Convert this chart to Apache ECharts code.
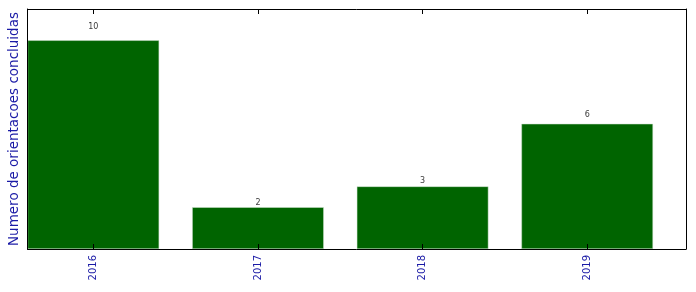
<!DOCTYPE html>
<html><head><meta charset="utf-8">
<script src="https://cdn.jsdelivr.net/npm/echarts@6/dist/echarts.min.js"></script>
<style>html,body{margin:0;padding:0;background:#fff}#c{width:696px;height:292px}</style>
</head><body><div id="c"></div>
<script>
const categories = ['2016', '2017', '2018', '2019'];
const values = [10, 2, 3, 6];
const yMax = 11.5;

const chart = echarts.init(document.getElementById('c'), null, {renderer: 'canvas'});
const barData = values.map((v, i) => [i, v]);
const labelData = values.map((v, i) => [i, v * 1.05]);
const xAxisCommon = {
  type: 'value', min: -0.4, max: 3.6, interval: 1, z: 10,
  axisLine: {show: true, onZero: false, lineStyle: {color: '#000', width: 1}},
  axisTick: {show: true, inside: true, length: 5, lineStyle: {color: '#000'}, customValues: [0,1,2,3]},
  splitLine: {show: false}
};
const yAxisCommon = {
  type: 'value', min: 0, max: yMax, z: 10,
  axisLine: {show: true, onZero: false, lineStyle: {color: '#000'}}, axisTick: {show: false}, axisLabel: {show: false}, splitLine: {show: false}
};
chart.setOption({
  animation: false,
  grid: {left: 27.5, right: 10, top: 9, bottom: 43, containLabel: false, outerBoundsMode: 'none'},
  xAxis: [
    Object.assign({}, xAxisCommon, {
      position: 'bottom',
      axisLabel: {show: true, rotate: 90, margin: 6, color: '#1a1aa6', fontSize: 10, fontFamily: 'DejaVu Sans',
        customValues: [0,1,2,3], formatter: v => categories[Math.round(v)]}
    }),
    Object.assign({}, xAxisCommon, {position: 'top', axisLabel: {show: false}})
  ],
  yAxis: [
    Object.assign({}, yAxisCommon, {position: 'left',
     name: 'Numero de orientacoes concluidas', nameLocation: 'middle', nameGap: 6,
     nameTextStyle: {color: '#1a1aa6', fontSize: 13.5, fontFamily: 'DejaVu Sans'}}),
    Object.assign({}, yAxisCommon, {position: 'right'})
  ],
  series: [
    {type: 'bar', data: barData, barWidth: 131.6, xAxisIndex: 0, yAxisIndex: 0,
     itemStyle: {color: '#006400', borderColor: '#cfe3cf', borderWidth: 0.5}},
    {type: 'scatter', data: labelData, symbolSize: 0, xAxisIndex: 0, yAxisIndex: 0,
     label: {show: true, position: 'top', distance: -1.5, color: '#000', fontSize: 8, fontFamily: 'DejaVu Sans',
       formatter: p => String(values[p.dataIndex])}}
  ]
});
</script></body></html>
